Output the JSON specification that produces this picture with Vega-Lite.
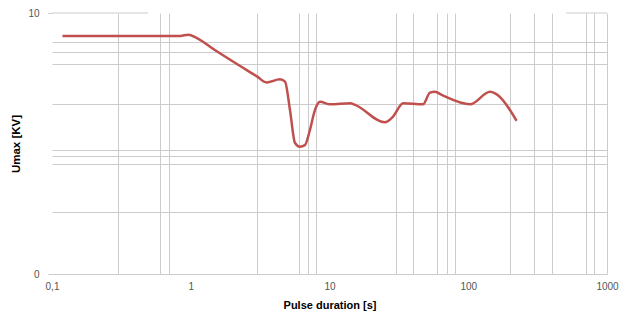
{
  "$schema": "https://vega.github.io/schema/vega-lite/v6.json",
  "autosize": {"type": "none"},
  "width": 555,
  "height": 261,
  "padding": {"left": 52, "top": 13, "right": 25, "bottom": 39},
  "background": "white",
  "config": {
    "view": {"stroke": null},
    "font": "Liberation Sans",
    "axis": {"labelFont": "Liberation Sans", "titleFont": "Liberation Sans"}
  },
  "datasets": {
    "curve": [
      {"t": 0.119, "u": 9.12},
      {"t": 0.5, "u": 9.12},
      {"t": 0.84, "u": 9.12},
      {"t": 0.96, "u": 9.17},
      {"t": 1.1, "u": 9.05},
      {"t": 1.5, "u": 8.57},
      {"t": 2.0, "u": 8.15},
      {"t": 2.5, "u": 7.83},
      {"t": 3.0, "u": 7.57},
      {"t": 3.52, "u": 7.34},
      {"t": 4.4, "u": 7.46},
      {"t": 4.78, "u": 7.37},
      {"t": 5.19, "u": 6.28},
      {"t": 5.64, "u": 5.02},
      {"t": 6.12, "u": 4.88},
      {"t": 6.65, "u": 4.94},
      {"t": 7.23, "u": 5.52},
      {"t": 7.85, "u": 6.28},
      {"t": 8.55, "u": 6.6},
      {"t": 10.1, "u": 6.5},
      {"t": 14.1, "u": 6.54},
      {"t": 15.3, "u": 6.48},
      {"t": 25.1, "u": 5.81},
      {"t": 28.7, "u": 6.03},
      {"t": 33.9, "u": 6.54},
      {"t": 47.2, "u": 6.5},
      {"t": 53.0, "u": 6.95},
      {"t": 57.6, "u": 6.98},
      {"t": 64.4, "u": 6.86},
      {"t": 103, "u": 6.5},
      {"t": 143.5, "u": 6.98},
      {"t": 156, "u": 6.92},
      {"t": 223, "u": 5.87}
    ],
    "topgrid": [
      {"t": 0.1, "t2": 0.492, "u": 10},
      {"t": 507, "t2": 1000, "u": 10}
    ]
  },
  "encoding": {
    "x": {
      "field": "t",
      "type": "quantitative",
      "title": "Pulse duration [s]",
      "scale": {"type": "log", "domain": [0.1, 1000]},
      "axis": {
        "values": [0.1, 0.3, 0.6, 0.7, 1, 3, 6, 7, 8, 10, 30, 40, 60, 70, 80, 100, 200, 300, 400, 700, 800, 1000],
        "format": "~g",
        "labelExpr": "datum.value == 0.1 ? '0,1' : (datum.value == 1 || datum.value == 10 || datum.value == 100 || datum.value == 1000) ? datum.label : ''",
        "labelOverlap": false,
        "labelFlush": false,
        "labelFontSize": 10,
        "labelColor": "#555555",
        "labelPadding": 7,
        "ticks": false,
        "tickSize": 0,
        "domain": false,
        "grid": true,
        "gridColor": {"condition": {"test": "datum.value == 0.1 || datum.value == 1 || datum.value == 10 || datum.value == 100", "value": "transparent"}, "value": "#cccccc"},
        "titleFontSize": 11,
        "titleFontWeight": "bold",
        "titleColor": "#000000",
        "titlePadding": 8
      }
    },
    "y": {
      "field": "u",
      "type": "quantitative",
      "title": "Umax [KV]",
      "scale": {"domain": [0, 10]},
      "axis": {
        "values": [0, 2.39, 4.21, 4.52, 4.76, 6.51, 8.03, 8.52, 8.9, 10],
        "labelExpr": "datum.value == 0 || datum.value == 10 ? datum.label : ''",
        "labelOverlap": false,
        "labelFlush": false,
        "labelAlign": "right",
        "labelBaseline": "middle",
        "labelFontSize": 10,
        "labelColor": "#555555",
        "labelPadding": 9,
        "tickSize": 4,
        "tickColor": {"condition": {"test": "datum.value == 0 || datum.value == 10", "value": "#cccccc"}, "value": "transparent"},
        "domain": false,
        "grid": true,
        "gridColor": {"condition": {"test": "datum.value == 10", "value": "transparent"}, "value": "#cccccc"},
        "titleFontSize": 11.5,
        "titleFontWeight": "bold",
        "titleColor": "#000000",
        "titlePadding": 6
      }
    }
  },
  "layer": [
    {
      "data": {"name": "topgrid"},
      "mark": {"type": "rule", "color": "#cccccc", "strokeWidth": 1},
      "encoding": {
        "x2": {"field": "t2"}
      }
    },
    {
      "data": {"name": "curve"},
      "mark": {"type": "line", "color": "#c0504d", "strokeWidth": 2.5, "interpolate": "monotone"}
    }
  ]
}
